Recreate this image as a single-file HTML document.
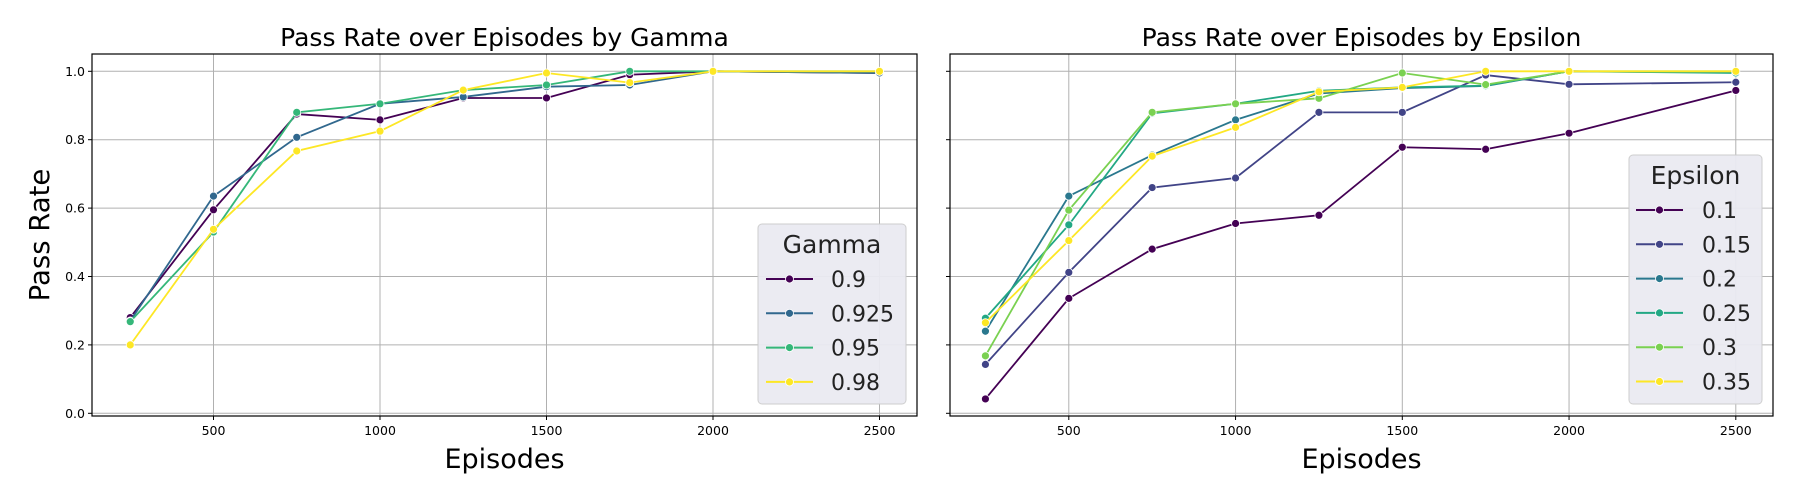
<!DOCTYPE html>
<html><head><meta charset="utf-8"><style>
html,body{margin:0;padding:0;background:#fff}
svg{display:block;font-family:"DejaVu Sans","Liberation Sans",sans-serif}
</style></head><body>
<svg id="c" width="1800" height="500" viewBox="0 0 1800 500"></svg>
<script>
const episodes=[250,500,750,1000,1250,1500,1750,2000,2500];
const xTicks=[500,1000,1500,2000,2500];
const yTicks=[0.0,0.2,0.4,0.6,0.8,1.0];
const yTickLabels=["0.0","0.2","0.4","0.6","0.8","1.0"];
const gammaLabels=["0.9","0.925","0.95","0.98"];
const gamma09=[0.28,0.595,0.875,0.858,0.922,0.922,0.99,1.0,0.995];
const gamma0925=[0.27,0.635,0.807,0.905,0.925,0.955,0.96,1.0,0.995];
const gamma095=[0.268,0.53,0.88,0.905,0.945,0.96,1.0,1.0,1.0];
const gamma098=[0.2,0.538,0.767,0.825,0.945,0.995,0.967,1.0,1.0];
const epsLabels=["0.1","0.15","0.2","0.25","0.3","0.35"];
const eps01=[0.042,0.336,0.48,0.555,0.579,0.778,0.772,0.819,0.944];
const eps015=[0.143,0.412,0.66,0.688,0.88,0.88,0.989,0.962,0.968];
const eps02=[0.24,0.635,0.755,0.858,0.935,0.951,0.957,1.0,0.997];
const eps025=[0.278,0.551,0.877,0.905,0.943,0.953,0.958,1.0,0.995];
const eps03=[0.168,0.594,0.88,0.905,0.921,0.995,0.961,1.0,1.0];
const eps035=[0.265,0.505,0.752,0.836,0.94,0.953,1.0,1.0,1.0];

const NS="http://www.w3.org/2000/svg";
const svg=document.getElementById('c');
function mk(tag,attrs,parent){const e=document.createElementNS(NS,tag);for(const k in attrs)e.setAttribute(k,attrs[k]);(parent||svg).appendChild(e);return e;}

function panel(cfg){
  const g=mk('g',{});
  
  
  const L=cfg.left,R=cfg.right,T=54,B=416;
  const xs=v=>cfg.x500+(v-500)*cfg.xper;
  const ys=v=>413.3-v*342;
  yTicks.forEach((t,i)=>{
    const l=mk('line',{x1:L,x2:R,y1:ys(t),y2:ys(t),stroke:'#b0b0b0','stroke-width':1},g);
    
    
    mk('line',{x1:L-4,x2:L,y1:ys(t),y2:ys(t),stroke:'#000','stroke-width':1},g);
    if(cfg.yLabels){
      const tx=mk('text',{x:L-7,y:ys(t)+4.5,'text-anchor':'end','font-size':12.5,fill:'#000'},g);
      tx.textContent=yTickLabels[i];
      
      
    }
  });
  xTicks.forEach(t=>{
    const l=mk('line',{x1:xs(t),x2:xs(t),y1:T,y2:B,stroke:'#b0b0b0','stroke-width':1},g);
    
    
    mk('line',{x1:xs(t),x2:xs(t),y1:B,y2:B+4,stroke:'#000','stroke-width':1},g);
    const tx=mk('text',{x:xs(t),y:B+19,'text-anchor':'middle','font-size':12.5,fill:'#000'},g);
    tx.textContent=String(t);
    
    
  });
  cfg.series.forEach((s,si)=>{
    const sg=mk('g',{},g);
    
    
    const pts=episodes.map((e,i)=>xs(e)+','+ys(s[i])).join(' ');
    mk('polyline',{points:pts,fill:'none',stroke:cfg.colors[si],'stroke-width':1.8},sg);
    episodes.forEach((e,i)=>{
      const c=mk('circle',{cx:xs(e),cy:ys(s[i]),r:4,fill:cfg.colors[si],stroke:'#fff','stroke-width':0.8},sg);
      
      
    });
  });
  const fr=mk('rect',{x:L,y:T,width:R-L,height:B-T,fill:'none',stroke:'#000','stroke-width':1.2},g);
  
  
  const ti=mk('text',{x:(L+R)/2,y:46,'text-anchor':'middle','font-size':25,fill:'#000'},g);
  ti.textContent=cfg.title;
  
  
  const xl=mk('text',{x:(L+R)/2,y:468,'text-anchor':'middle','font-size':27,fill:'#000'},g);
  xl.textContent='Episodes';
  
  
  const lg=cfg.legend;
  const lgg=mk('g',{},g);
  
  
  mk('rect',{x:lg.x,y:lg.y,width:lg.w,height:lg.h,rx:4,fill:'#eaeaf2',stroke:'#cccccc','stroke-width':1,opacity:0.95},lgg);
  const lt=mk('text',{x:lg.x+lg.w/2,y:lg.titleY+9,'text-anchor':'middle','font-size':25,fill:'#222'},lgg);
  lt.textContent=lg.title;
  
  
  cfg.labels.forEach((lab,i)=>{
    const y=lg.firstY+i*34.3;
    const eg=mk('g',{},lgg);
    
    
    mk('line',{x1:lg.hx,x2:lg.hx+47,y1:y,y2:y,stroke:cfg.colors[i],'stroke-width':2},eg);
    mk('circle',{cx:lg.hx+23.5,cy:y,r:4,fill:cfg.colors[i],stroke:'#fff','stroke-width':0.8},eg);
    const t=mk('text',{x:lg.tx,y:y+8,'font-size':22,fill:'#222'},eg);
    t.textContent=lab;
  });
}
panel({name:'gamma-panel',left:92,right:917,x500:213.5,xper:166.5/500,yLabels:true,
  title:'Pass Rate over Episodes by Gamma',
  series:[gamma09,gamma0925,gamma095,gamma098],labels:gammaLabels,
  colors:['#440154','#31688e','#35b779','#fde725'],
  legend:{x:758,y:224,w:148,h:180,title:'Gamma',titleY:244,firstY:279,hx:766,tx:831}});
panel({name:'epsilon-panel',left:950,right:1773,x500:1068.8,xper:166.75/500,yLabels:false,
  title:'Pass Rate over Episodes by Epsilon',
  series:[eps01,eps015,eps02,eps025,eps03,eps035],labels:epsLabels,
  colors:['#440154','#414487','#2a788e','#22a884','#7ad151','#fde725'],
  legend:{x:1629,y:155,w:133,h:249,title:'Epsilon',titleY:175,firstY:210,hx:1636,tx:1702}});
const yl=mk('text',{x:0,y:0,'text-anchor':'middle','font-size':27.5,fill:'#000',transform:'translate(49,235) rotate(-90)'});
yl.textContent='Pass Rate';


</script>
</body></html>
